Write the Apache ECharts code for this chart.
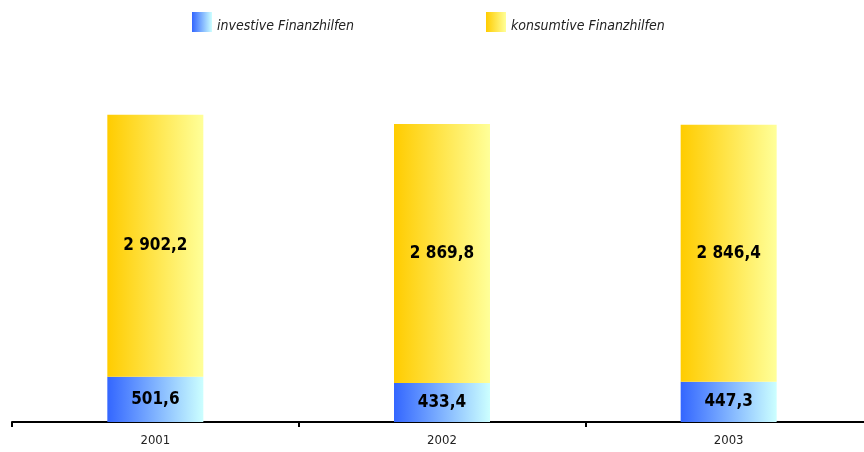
<!DOCTYPE html>
<html><head><meta charset="utf-8">
<script src="https://cdn.jsdelivr.net/npm/echarts@6/dist/echarts.min.js"></script>
<style>html,body{margin:0;padding:0;background:#fff}#c{width:864px;height:452px}</style>
</head><body><div id="c"></div>
<script>
const categories = ['2001', '2002', '2003'];
const investive = [501.6, 433.4, 447.3];
const konsumtive = [2902.2, 2869.8, 2846.4];
const seriesNames = ['investive Finanzhilfen', 'konsumtive Finanzhilfen'];

const FONT = '"Liberation Sans Narrow", "DejaVu Sans Condensed", "Liberation Sans", sans-serif';
function grad(a, b) {
  return new echarts.graphic.LinearGradient(0, 0, 1, 0, [{offset: 0, color: a}, {offset: 1, color: b}]);
}
const fmt = v => {
  const s = v.toFixed(1).replace('.', ',');
  const [i, d] = s.split(',');
  return i.replace(/\B(?=(\d{3})+(?!\d))/g, ' ') + ',' + d;
};
const chart = echarts.init(document.getElementById('c'), null, {renderer: 'canvas'});
const labelStyle = {show: true, position: 'inside', color: '#000', fontWeight: 'bold', fontSize: 17, fontFamily: FONT, formatter: p => fmt(p.value)};
const legendText = {fontStyle: 'italic', fontSize: 14, color: '#222', fontFamily: FONT,
  rich: {a: {fontStyle: 'italic', fontSize: 14, color: '#222', fontFamily: FONT, padding: [8, 0, 0, 0]}}};
chart.setOption({
  animation: false,
  legend: [
    {data: [seriesNames[0]], left: 187, top: 7, itemWidth: 20, itemHeight: 20, icon: 'rect', itemGap: 8, textStyle: legendText, formatter: '{a|{name}}'},
    {data: [seriesNames[1]], left: 481, top: 7, itemWidth: 20, itemHeight: 20, icon: 'rect', textStyle: legendText, formatter: '{a|{name}}'}
  ],
  grid: {left: 12, width: 860, top: 61, bottom: 30, containLabel: false, outerBoundsMode: 'none'},
  xAxis: {
    type: 'category', data: categories, boundaryGap: true,
    axisLine: {lineStyle: {color: '#000', width: 2}},
    axisTick: {show: true, length: 5, lineStyle: {color: '#000', width: 2}},
    axisLabel: {color: '#222', fontSize: 13, fontFamily: FONT, margin: 12}
  },
  yAxis: {type: 'value', min: 0, max: 4000, show: false, splitLine: {show: false}},
  series: [
    {name: seriesNames[0], type: 'bar', stack: 't', data: investive, barWidth: 96,
     itemStyle: {color: grad('#3366ff', '#ccffff')}, label: labelStyle},
    {name: seriesNames[1], type: 'bar', stack: 't', data: konsumtive, barWidth: 96,
     itemStyle: {color: grad('#ffcc00', '#ffff99')}, label: labelStyle}
  ]
});
</script></body></html>
